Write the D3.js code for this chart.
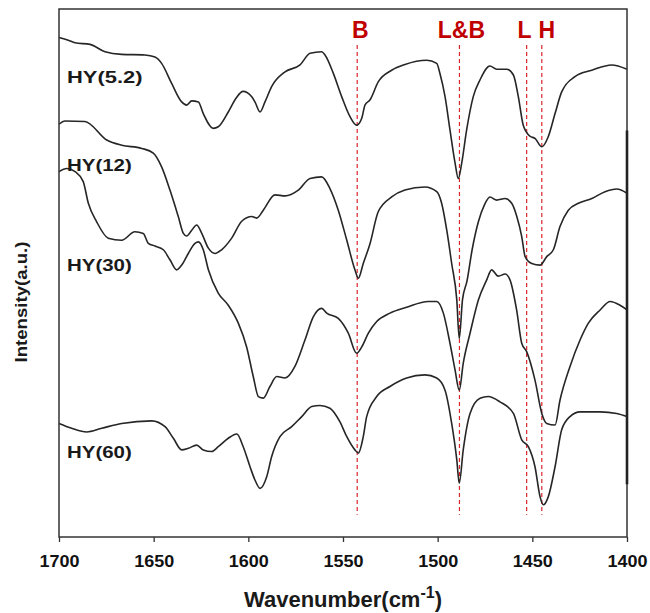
<!DOCTYPE html>
<html>
<head>
<meta charset="utf-8">
<script src="https://cdn.jsdelivr.net/npm/d3@7"></script>
<style>
  body { margin: 0; background: #fff; }
  svg { display: block; font-family: "Liberation Sans", Arial, sans-serif; }
</style>
</head>
<body>
<svg id="chart"></svg>
<script>
// spectra: [wavenumber, intensity (a.u.)]
const hy52 = [[1700,94.6],[1695.1,94.1],[1691.5,93.6],[1683.6,93.3],[1675.7,91.9],[1666.9,91.4],[1654.6,91.3],[1649.3,90.9],[1645.8,89.7],[1640.5,85.9],[1635.2,82.4],[1632.6,81.8],[1629.9,82.6],[1626.4,82.4],[1623.8,80.2],[1618.5,77.4],[1615.9,77.7],[1610.6,80.5],[1606.5,83.1],[1602.8,84.4],[1598.2,83.4],[1596.5,82.4],[1593.8,80.5],[1591.2,82.4],[1587.7,85.3],[1580.6,88.1],[1572.7,89.4],[1567.4,91.6],[1561.3,91.9],[1559.5,91.3],[1555.1,87.8],[1550.7,83.4],[1546.3,79.6],[1542.8,78.0],[1540.1,79.3],[1538.4,81.8],[1535.7,82.8],[1531.4,86.2],[1524.3,88.4],[1517.3,89.5],[1505.8,90.3],[1500.5,89.7],[1498.8,87.8],[1496.1,83.4],[1493.5,77.1],[1490.8,70.8],[1489.1,67.9],[1487.3,70.8],[1484.7,77.1],[1481.2,83.4],[1477.6,86.6],[1472.4,89.2],[1468.8,88.6],[1463.5,88.6],[1460.0,87.5],[1457.4,83.4],[1454.8,78.0],[1451.2,75.9],[1448.6,75.5],[1445.0,73.9],[1441.6,75.8],[1438.0,80.2],[1434.5,84.3],[1427.5,87.2],[1418.6,88.4],[1408.1,89.4],[1400,88.6]];

const hy12 = [[1700,78.2],[1696.8,78.8],[1686.3,78.7],[1674.8,75.2],[1666.9,74.2],[1656.3,73.6],[1650.2,72.7],[1645.8,70.1],[1641.4,65.7],[1637.0,60.7],[1634.3,57.5],[1632.6,57.0],[1629.9,58.1],[1627.3,59.1],[1624.6,57.5],[1621.1,54.7],[1617.6,53.7],[1614.1,54.4],[1608.8,56.6],[1603.5,59.8],[1598.2,60.7],[1595.6,60.4],[1592.1,61.9],[1585.9,64.8],[1580.6,64.6],[1573.6,65.7],[1567.4,67.9],[1561.3,68.2],[1556.9,66.0],[1552.5,61.9],[1548.0,56.2],[1543.7,50.6],[1541.9,49.0],[1539.3,51.8],[1535.7,55.6],[1531.4,61.6],[1524.3,64.4],[1517.3,65.7],[1506.7,66.3],[1500.5,65.4],[1497.9,63.2],[1495.2,58.1],[1492.6,51.8],[1489.9,44.9],[1488.6,37.6],[1486.9,44.9],[1484.5,48.5],[1481.8,54.4],[1478.5,59.7],[1475.3,62.9],[1472.4,64.4],[1468.8,63.8],[1464.4,64.1],[1460.9,63.2],[1458.2,60.7],[1455.6,56.9],[1453.8,53.1],[1450.3,51.8],[1445.9,51.5],[1442.4,53.1],[1438.9,54.4],[1435.4,58.8],[1431.0,61.9],[1425.7,63.2],[1418.6,64.1],[1411.6,65.4],[1405.4,65.9],[1400,65.1]];

const hy30 = [[1700,69.2],[1695.9,69.8],[1691.5,69.2],[1687.2,67.3],[1684.5,63.2],[1680.1,59.7],[1674.0,56.6],[1666.9,56.2],[1659.9,57.8],[1655.5,57.5],[1652.8,55.6],[1649.3,55.1],[1644.9,54.4],[1641.4,52.5],[1637.8,50.6],[1635.2,51.5],[1631.7,53.7],[1628.2,55.6],[1626.4,55.9],[1623.8,54.4],[1621.1,50.6],[1615.9,46.2],[1610.6,43.9],[1605.3,40.5],[1600.9,36.0],[1597.4,30.4],[1594.7,26.6],[1592.1,26.3],[1588.6,28.5],[1585.0,30.4],[1580.6,30.1],[1575.4,32.3],[1570.1,37.3],[1565.7,41.7],[1561.3,43.3],[1558.6,42.4],[1552.5,41.4],[1547.2,38.6],[1542.8,34.8],[1540.1,36.0],[1536.6,38.6],[1532.2,40.8],[1525.2,42.4],[1516.4,43.5],[1505.0,44.6],[1500.5,44.6],[1497.0,42.4],[1493.5,36.7],[1490.8,31.6],[1488.6,27.8],[1486.5,32.9],[1482.9,38.6],[1478.5,44.9],[1474.1,48.7],[1471.5,50.6],[1468.0,49.4],[1464.4,49.8],[1461.8,48.7],[1458.3,43.0],[1455.6,36.7],[1453.0,35.1],[1448.6,29.7],[1445.0,23.4],[1442.4,21.5],[1438.0,21.2],[1435.4,25.9],[1430.1,32.3],[1424.8,37.3],[1420.4,40.5],[1414.2,43.0],[1408.9,44.6],[1403.7,43.9],[1400,43.0]];

const hy60 = [[1700,21.5],[1693.3,20.6],[1685.4,19.9],[1677.4,20.6],[1666.9,21.5],[1651.0,22.0],[1644.0,20.9],[1639.6,18.7],[1635.2,16.5],[1631.7,16.8],[1627.3,17.4],[1623.8,16.5],[1619.3,16.2],[1615.9,17.1],[1610.6,18.7],[1606.1,19.5],[1602.7,17.1],[1599.1,13.3],[1596.5,10.8],[1593.8,9.2],[1590.3,11.4],[1587.7,15.2],[1583.3,19.0],[1577.1,20.9],[1571.8,22.8],[1566.5,24.7],[1562.2,24.9],[1556.9,24.4],[1551.6,21.8],[1548.0,19.0],[1543.7,16.5],[1541.9,15.9],[1539.3,19.0],[1537.5,22.8],[1532.2,26.6],[1525.2,28.5],[1516.4,30.1],[1506.7,30.7],[1500.5,30.1],[1496.1,27.8],[1492.6,21.5],[1489.9,14.6],[1488.6,10.2],[1486.5,16.5],[1482.9,23.4],[1477.6,26.3],[1473.3,26.6],[1467.1,25.6],[1460.0,23.4],[1455.6,18.4],[1452.1,17.1],[1448.6,13.3],[1445.9,7.6],[1444.2,6.1],[1441.6,7.6],[1438.0,13.3],[1434.5,20.3],[1430.1,22.8],[1424.8,23.7],[1414.2,23.7],[1405.4,23.4],[1400,22.8]];

const seriesNames = ["HY(5.2)", "HY(12)", "HY(30)", "HY(60)"];
// label height on the intensity axis
const seriesLabelLevel = [87.2, 70.5, 51.5, 16.2];

const bandNames = ["B", "L&B", "L", "H"];
const bandPositions = [1542.5, 1488.5, 1453, 1445];

const xTicks = [1700, 1650, 1600, 1550, 1500, 1450, 1400];

const margin = {top: 9, right: 23, bottom: 76, left: 59},
    width = 650 - margin.left - margin.right,
    height = 613 - margin.top - margin.bottom;

const svg = d3.select("#chart")
    .attr("width", 650)
    .attr("height", 613);

const g = svg.append("g").attr("transform", `translate(${margin.left},${margin.top})`);

const x = d3.scaleLinear().domain([1700, 1400]).range([0, width]);
const y = d3.scaleLinear().domain([0, 100]).range([height, 0]);

// dashed band markers
g.selectAll(".band")
    .data(bandPositions)
    .enter().append("line")
        .attr("class", "band")
        .attr("x1", d => x(d))
        .attr("x2", d => x(d))
        .attr("y1", y(93.2))
        .attr("y2", y(4.2))
        .attr("stroke", "#d9262b")
        .attr("stroke-width", 1.2)
        .attr("stroke-dasharray", "4,3");

const labelShift = [3, 2, -2, 5];
g.selectAll(".band-label")
    .data(bandNames)
    .enter().append("text")
        .attr("class", "band-label")
        .attr("x", (d, i) => x(bandPositions[i]) + labelShift[i])
        .attr("y", 29)
        .attr("text-anchor", "middle")
        .attr("fill", "#c00000")
        .attr("font-weight", "bold")
        .attr("font-size", "23px")
        .text(d => d);

const line = d3.line()
    .x(d => x(d[0]))
    .y(d => y(d[1]))
    .curve(d3.curveMonotoneX);

g.selectAll(".spectrum")
    .data([hy52, hy12, hy30, hy60])
    .enter().append("path")
        .attr("class", "spectrum")
        .attr("d", line)
        .attr("fill", "none")
        .attr("stroke", "#262626")
        .attr("stroke-width", 1.6)
        .attr("stroke-linejoin", "round");

g.selectAll(".series-label")
    .data(seriesNames)
    .enter().append("text")
        .attr("class", "series-label")
        .attr("x", 8)
        .attr("y", (d, i) => y(seriesLabelLevel[i]))
        .attr("dy", "0.36em")
        .attr("font-weight", "bold")
        .attr("font-size", "17px")
        .attr("fill", "#1a1a1a")
        .attr("textLength", d => d.length * 10.8)
        .attr("lengthAdjust", "spacingAndGlyphs")
        .text(d => d);

// bottom axis
const xAxis = g.append("g")
    .attr("transform", `translate(0,${height})`)
    .call(d3.axisBottom(x).tickValues(xTicks).tickSize(5).tickPadding(14).tickFormat(d3.format("d")));
xAxis.select(".domain").remove();
xAxis.selectAll(".tick line").attr("stroke", "#333").attr("stroke-width", 1.3);
xAxis.selectAll("text")
    .attr("font-family", "'Liberation Sans', Arial, sans-serif")
    .attr("font-size", "16px")
    .attr("font-weight", "bold")
    .attr("fill", "#111")
    .attr("textLength", 40)
    .attr("lengthAdjust", "spacingAndGlyphs");

// frame
g.append("rect")
    .attr("width", width)
    .attr("height", height)
    .attr("fill", "none")
    .attr("stroke", "#333")
    .attr("stroke-width", 1.5);

// darker stretch of the right border, as in the scan
g.append("line")
    .attr("x1", width).attr("x2", width)
    .attr("y1", y(77)).attr("y2", y(10))
    .attr("stroke", "#222")
    .attr("stroke-width", 2.6);

// axis titles
const xt = svg.append("text")
    .attr("x", margin.left + width / 2)
    .attr("y", 607)
    .attr("text-anchor", "middle")
    .attr("font-weight", "bold")
    .attr("font-size", "22px")
    .attr("fill", "#1a1a1a");
xt.append("tspan").text("Wavenumber(cm");
xt.append("tspan").attr("font-size", "16px").attr("dy", "-9").text("-1");
xt.append("tspan").attr("dy", "9").text(")");

svg.append("text")
    .attr("transform", "translate(27,302) rotate(-90)")
    .attr("text-anchor", "middle")
    .attr("font-weight", "bold")
    .attr("font-size", "17px")
    .attr("fill", "#1a1a1a")
    .attr("textLength", 121)
    .attr("lengthAdjust", "spacingAndGlyphs")
    .text("Intensity(a.u.)");
</script>
</body>
</html>
